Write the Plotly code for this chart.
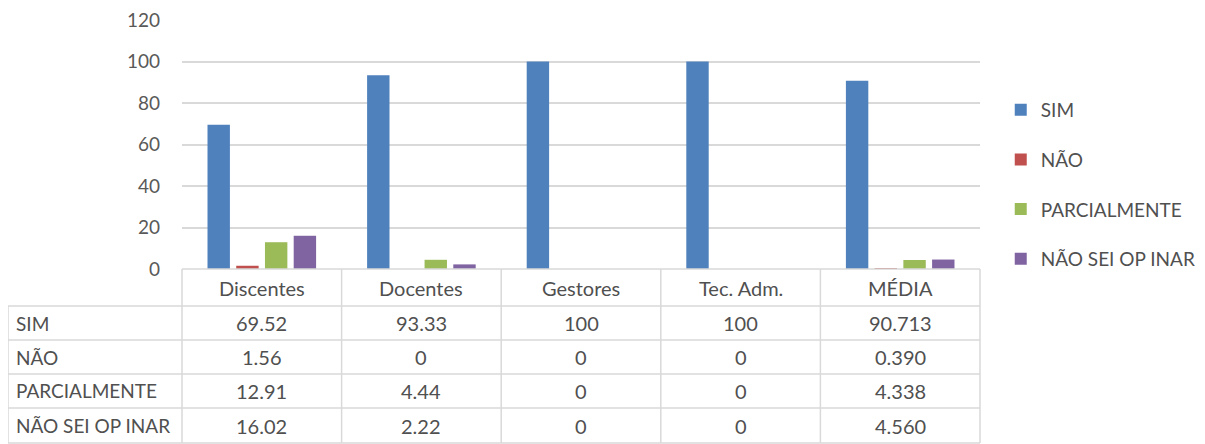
import plotly.graph_objects as go

categories = ["Discentes", "Docentes", "Gestores", "Tec. Adm.", "MÉDIA"]
series_names = ["SIM", "NÃO", "PARCIALMENTE", "NÃO SEI OP INAR"]
sim = [69.52, 93.33, 100, 100, 90.713]
nao = [1.56, 0, 0, 0, 0.390]
parcialmente = [12.91, 4.44, 0, 0, 4.338]
nao_sei = [16.02, 2.22, 0, 0, 4.560]
colors = ["#4F81BD", "#C0504D", "#9BBB59", "#8064A2"]
y_ticks = [0, 20, 40, 60, 80, 100, 120]

series = [sim, nao, parcialmente, nao_sei]

OFF = 8  # default page body margin
W, H = 1197, 436
L, R, T, B = 174, 225, 12, 175
plot_h = H - T - B
plot_w = W - L - R
FONT = "Lato"
TXT = "#505050"
GRID = "#D9D9D9"
FS = 20
FS_LBL = 19

fig = go.Figure()
for name, vals, col in zip(series_names, series, colors):
    fig.add_trace(go.Bar(x=categories, y=vals, name=name, marker_color=col,
                         marker_line_width=0, legendgroup=name))

def py(page_px):
    return (H - B - (page_px - OFF)) / plot_h

def pxx(page_px):
    return (page_px - OFF - L) / plot_w

shapes = []
row_edges = [306, 340, 374, 408, 443]
header_top = 269
table_left = 8
shapes.append(dict(type="line", xref="paper", yref="paper", x0=0, x1=1, y0=0, y1=0,
                   line=dict(color=GRID, width=1.5)))
for ry in row_edges:
    shapes.append(dict(type="line", xref="paper", yref="paper", x0=pxx(table_left), x1=1,
                       y0=py(ry), y1=py(ry), line=dict(color=GRID, width=1.5)))
n = len(categories)
for i in range(n + 1):
    shapes.append(dict(type="line", xref="paper", yref="paper", x0=i / n, x1=i / n,
                       y0=0, y1=py(row_edges[-1]), line=dict(color=GRID, width=1.5)))
shapes.append(dict(type="line", xref="paper", yref="paper", x0=pxx(table_left), x1=pxx(table_left),
                   y0=py(row_edges[0]), y1=py(row_edges[-1]), line=dict(color=GRID, width=1.5)))

annotations = []
header_y = (header_top + row_edges[0]) / 2
for i, c in enumerate(categories):
    annotations.append(dict(x=(i + 0.5) / n, y=py(header_y), xref="paper", yref="paper",
                            text=c, showarrow=False, font=dict(size=FS, color=TXT, family=FONT),
                            xanchor="center", yanchor="middle"))

def fmt(v, cat):
    return f"{v:.3f}" if cat == "MÉDIA" else f"{v:g}"

for r, (name, vals) in enumerate(zip(series_names, series)):
    cy = (row_edges[r] + row_edges[r + 1]) / 2
    annotations.append(dict(x=pxx(table_left + 6), y=py(cy), xref="paper", yref="paper",
                            text=name, showarrow=False, font=dict(size=FS_LBL, color=TXT, family=FONT),
                            xanchor="left", yanchor="middle"))
    for i, (c, v) in enumerate(zip(categories, vals)):
        annotations.append(dict(x=(i + 0.5) / n, y=py(cy), xref="paper", yref="paper",
                                text=fmt(v, c), showarrow=False,
                                font=dict(size=FS, color=TXT, family=FONT),
                                xanchor="center", yanchor="middle"))

fig.update_layout(
    width=W, height=H,
    margin=dict(l=L, r=R, t=T, b=B, autoexpand=False),
    paper_bgcolor="white", plot_bgcolor="white",
    barmode="group", bargap=0.28, bargroupgap=0.22,
    font=dict(family=FONT, size=FS, color=TXT),
    xaxis=dict(showticklabels=False, showgrid=False, zeroline=False, showline=False,
               ticks=""),
    yaxis=dict(range=[0, 120], tickvals=y_ticks, showgrid=True, gridcolor=GRID, gridwidth=1.5,
               zeroline=False, showline=False, ticks="", ticklabelstandoff=21,
               ticklabeloverflow="allow",
               tickfont=dict(size=19, color="#595959", family=FONT)),
    legend=dict(x=1.026, xanchor="left", y=0.34, yanchor="middle",
                font=dict(size=FS_LBL, color=TXT, family=FONT), tracegroupgap=22,
                itemwidth=30, bgcolor="rgba(0,0,0,0)"),
    shapes=shapes, annotations=annotations,
    showlegend=True,
)

fig.write_html("out.html")
